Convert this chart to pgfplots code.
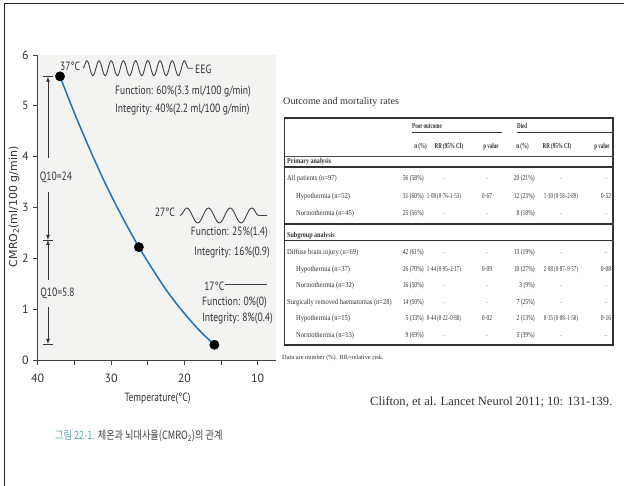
\documentclass[border=0pt]{standalone}
\usepackage{fontspec}
\setmainfont{Liberation Serif}
\newfontfamily\cf[FakeStretch=0.8]{PT Sans}
\newfontfamily\tickf{PT Sans}
\newfontfamily\yf{DejaVu Sans}
\newfontfamily\kr[FakeStretch=0.8]{Noto Sans CJK KR}
\newfontfamily\tabl[FakeStretch=0.86]{Liberation Serif}
\newfontfamily\tabn[FakeStretch=0.74]{Liberation Serif}
\newfontfamily\tabr[FakeStretch=0.65]{Liberation Serif}
\newfontfamily\tabh[FakeStretch=0.66]{Liberation Serif}
\newfontfamily\tabs[FakeStretch=0.8]{Liberation Serif}
\usepackage{pgfplots}
\pgfplotsset{compat=1.18}
\usetikzlibrary{arrows.meta,decorations.pathmorphing}
\definecolor{curveblue}{RGB}{35,112,185}
\definecolor{plotbg}{RGB}{243,243,242}
\definecolor{teal2}{RGB}{98,168,178}
\definecolor{txt}{RGB}{50,50,50}
\newcommand\af{\cf\fontsize{12}{14}\selectfont}
\newcommand\tb{\fontsize{7.6}{9}\selectfont}
\newcommand\da{\textcolor{black!45}{–}}
\newcommand\trow[9]{%
 \node[anchor=west, font=\tabl\tb] at (#2,#1) {#3};
 \node[anchor=east] at (424,#1) {#4};
 \node[font=\tabr\tb] at (444,#1) {#5};
 \node at (487,#1) {#6};
 \node[anchor=east] at (535,#1) {#7};
 \node[font=\tabr\tb] at (561,#1) {#8};
 \node at (606,#1) {#9};
}
\begin{document}
\begin{tikzpicture}
\path[use as bounding box] (0,0) rectangle (624bp,-486bp);
\begin{axis}[
 at={(37.7bp,-360bp)}, anchor=south west,
 scale only axis, width=238.3bp, height=305bp,
 xmin=7.5, xmax=40, ymin=0, ymax=6, x dir=reverse,
 axis x line*=bottom, axis y line*=left,
 axis line style={draw=black!75, line width=0.9bp},
 axis background/.style={fill=plotbg},
 xtick={10,15,20,25,30,35,40}, xticklabels={10,,20,,30,,40},
 ytick={0,1,2,3,4,5,6},
 tick align=outside, major tick length=4.5bp,
 tick style={draw=black!75, line width=0.9bp},
 ticklabel style={font=\tickf\fontsize{12}{14}\selectfont, text=txt},
 /pgf/number format/assume math mode=true,
 xticklabel style={yshift=-6bp},
 yticklabel style={xshift=-1bp},
 xlabel={Temperature(°C)},
 xlabel style={font=\af, text=txt, at={(axis description cs:0.503,-0.125)}, anchor=center},
 ylabel={CMRO\textsubscript{2}(ml/100 g/min)},
 ylabel style={font=\yf\fontsize{11}{13}\selectfont, text=txt, at={(axis description cs:-0.0995,0.502)}, anchor=center},
 clip=false,
]
\addplot[smooth, color=curveblue, line width=1.5bp] coordinates {
 (36.96,5.58) (35,4.86) (33,4.18) (31,3.54) (29,2.96) (26.2,2.22)
 (23,1.49) (20.7,1.04) (18,0.59) (15.9,0.30)};
\addplot[only marks, mark=*, mark size=4.7, black] coordinates {
 (36.96,5.58) (26.2,2.22) (15.9,0.30)};
% Q10 markers
\draw[black!80, line width=0.8bp] (axis cs:39.28,5.573) -- (axis cs:37.91,5.573);
\draw[black!80, line width=0.8bp] (axis cs:39.28,2.361) -- (axis cs:37.91,2.361);
\draw[black!80, line width=0.8bp] (axis cs:39.28,0.315) -- (axis cs:37.91,0.315);
\draw[black!80, line width=0.8bp, -{Latex[length=5bp,width=4bp]}] (axis cs:38.6,3.974) -- (axis cs:38.6,5.573);
\draw[black!80, line width=0.8bp, -{Latex[length=5bp,width=4bp]}] (axis cs:38.6,3.305) -- (axis cs:38.6,2.361);
\draw[black!80, line width=0.8bp, -{Latex[length=5bp,width=4bp]}] (axis cs:38.6,1.574) -- (axis cs:38.6,2.361);
\draw[black!80, line width=0.8bp, -{Latex[length=5bp,width=4bp]}] (axis cs:38.6,1.043) -- (axis cs:38.6,0.315);
\node[font=\af, text=txt] at (axis cs:37.5,3.6) {Q10=24};
\node[font=\af, text=txt] at (axis cs:37.3,1.318) {Q10=5.8};
% annotations
\node[anchor=west, inner sep=0, font=\af, text=txt] at (axis cs:36.96,5.77) {37°C};
\draw[black!75, line width=0.9bp, decorate, decoration={snake, amplitude=7.5bp, segment length=12.2bp}] (axis cs:33.82,5.74) -- (axis cs:18.81,5.74);
\node[anchor=west, inner sep=0, font=\af, text=txt] at (axis cs:18.54,5.72) {EEG};
\node[anchor=west, inner sep=0, font=\af, text=txt] at (axis cs:29.46,5.278) {Function: 60\%(3.3 ml/100 g/min)};
\node[anchor=west, inner sep=0, font=\af, text=txt] at (axis cs:29.46,4.93) {Integrity: 40\%(2.2 ml/100 g/min)};
\node[anchor=east, inner sep=0, font=\af, text=txt] at (axis cs:21.27,2.91) {27°C};
\draw[black!75, line width=0.9bp, decorate, decoration={snake, amplitude=7.5bp, segment length=21.7bp}] (axis cs:20.59,2.843) -- (axis cs:8.72,2.843);
\node[anchor=east, inner sep=0, font=\af, text=txt] at (axis cs:8.58,2.50) {Function: 25\%(1.4)};
\node[anchor=east, inner sep=0, font=\af, text=txt] at (axis cs:8.31,2.105) {Integrity: 16\%(0.9)};
\node[anchor=west, inner sep=0, font=\af, text=txt] at (axis cs:17.31,1.456) {17°C};
\draw[black!75, line width=0.9bp] (axis cs:14.4,1.495) -- (axis cs:8.72,1.495);
\node[anchor=west, inner sep=0, font=\af, text=txt] at (axis cs:17.59,1.121) {Function: 0\%(0)};
\node[anchor=west, inner sep=0, font=\af, text=txt] at (axis cs:17.59,0.807) {Integrity: 8\%(0.4)};
\end{axis}
\begin{scope}[x=1bp,y=-1bp]
\draw[line width=1.3bp, black!85] (4.3,486) -- (4.3,3.3) -- (624,3.3);
\node[anchor=west, inner sep=0, font=\fontsize{10.2}{12}\selectfont, text=txt] at (283,101.7) {Outcome and mortality rates};
\draw[line width=1.1bp, black!80] (284.5,118) rectangle (613,345);
\draw[line width=1bp, black!80] (412,132) -- (502,132);
\draw[line width=1bp, black!80] (517,132) -- (612,132);
\draw[line width=0.5bp, black!70] (284.5,156) -- (613,156);
\draw[line width=1.3bp, black!80] (284.5,167) -- (613,167);
\draw[line width=1.3bp, black!80] (284.5,224) -- (613,224);
\draw[line width=1.3bp, black!80] (284.5,240.7) -- (613,240.7);
\begin{scope}[every node/.style={inner sep=0, text height=5.5pt, text depth=1.7pt, font=\tabn\tb, text=txt}]
\node[anchor=west, font=\tabh\tb\bfseries] at (412,126.7) {Poor outcome};
\node[anchor=west, font=\tabh\tb\bfseries] at (517,126.7) {Died};
\node[font=\tabh\tb\bfseries] at (420.5,146.7) {n (\%)};
\node[font=\tabh\tb\bfseries] at (449,146.7) {RR (95\% CI)};
\node[font=\tabh\tb\bfseries] at (491,146.7) {p value};
\node[font=\tabh\tb\bfseries] at (522.5,146.7) {n (\%)};
\node[font=\tabh\tb\bfseries] at (557,146.7) {RR (95\% CI)};
\node[font=\tabh\tb\bfseries] at (602,146.7) {p value};
\node[anchor=west, font=\tabs\tb\bfseries] at (287,161.7) {Primary analysis};
\trow{179}{287}{All patients (n=97)}{56 (58\%)}{\da}{\da}{20 (21\%)}{\da}{\da}
\trow{196.5}{296}{Hypothermia (n=52)}{31 (60\%)}{1·08 (0·76–1·53)}{0·67}{12 (23\%)}{1·30 (0·58–2·89)}{0·52}
\trow{214}{296}{Normothermia (n=45)}{25 (56\%)}{\da}{\da}{8 (18\%)}{\da}{\da}
\node[anchor=west, font=\tabs\tb\bfseries] at (287,235.5) {Subgroup analysis};
\trow{253}{287}{Diffuse brain injury (n=69)}{42 (61\%)}{\da}{\da}{13 (19\%)}{\da}{\da}
\trow{269.5}{296}{Hypothermia (n=37)}{26 (70\%)}{1·44 (0·95–2·17)}{0·09}{10 (27\%)}{2·88 (0·87–9·57)}{0·08}
\trow{286}{296}{Normothermia (n=32)}{16 (50\%)}{\da}{\da}{3 (9\%)}{\da}{\da}
\trow{302.5}{287}{Surgically removed haematomas (n=28)}{14 (50\%)}{\da}{\da}{7 (25\%)}{\da}{\da}
\trow{319}{296}{Hypothermia (n=15)}{5 (33\%)}{0·44 (0·22–0·88)}{0·02}{2 (13\%)}{0·35 (0·08–1·50)}{0·16}
\trow{335.5}{296}{Normothermia (n=13)}{9 (69\%)}{\da}{\da}{5 (39\%)}{\da}{\da}
\node[anchor=west, font=\fontsize{6.4}{7}\selectfont] at (282,358) {Data are number (\%). RR=relative risk.};
\end{scope}
\node[anchor=west, inner sep=0, font=\fontsize{12.6}{14}\selectfont, text=txt] at (370,402) {Clifton, et al. Lancet Neurol 2011; 10: 131-139.};
\node[anchor=west, inner sep=0, font=\kr\fontsize{11.5}{13}\selectfont] at (55,436) {\textcolor{teal2}{그림 22-1.} \textcolor{black!75}{체온과 뇌대사율(CMRO\textsubscript{2})의 관계}};
\end{scope}
\end{tikzpicture}
\end{document}
